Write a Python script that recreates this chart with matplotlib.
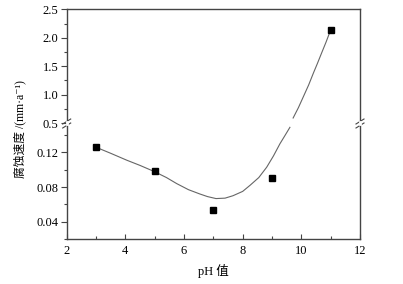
import numpy as np
import matplotlib.pyplot as plt
from matplotlib.ticker import MultipleLocator

# measured points
ph = [3, 5, 7, 9, 11]
rate = [0.126, 0.098, 0.053, 0.091, 2.13]

# fitted curve, lower part and upper part of the broken axis
fit_ph_low = [3.0, 3.5, 4.05, 4.5, 4.98, 5.4, 5.75, 6.15, 6.54, 6.8, 7.09, 7.4, 7.67, 8.0, 8.25, 8.55, 8.82, 9.05, 9.27, 9.45, 9.61]
fit_v_low = [0.126, 0.119, 0.111, 0.105, 0.098, 0.091, 0.084, 0.077, 0.072, 0.069, 0.0667, 0.0672, 0.070, 0.075, 0.082, 0.091, 0.103, 0.116, 0.130, 0.140, 0.149]
fit_ph_up = [9.72, 9.9, 10.07, 10.25, 10.41, 10.55, 10.69, 10.84, 10.98]
fit_v_up = [0.588, 0.77, 0.964, 1.17, 1.377, 1.55, 1.73, 1.92, 2.11]

plt.rcParams['font.family'] = ['Liberation Serif', 'Noto Sans CJK SC', 'DejaVu Sans']
plt.rcParams['font.size'] = 9

W, H = 403, 284
fig = plt.figure(figsize=(W / 100, H / 100), dpi=100)

left = 66.7 / W
right = 360 / W
top = 1 - 9.3 / H
brk = 1 - 123 / H
bot = 1 - 239 / H

ax_up = fig.add_axes([left, brk, right - left, top - brk])
ax_lo = fig.add_axes([left, bot, right - left, brk - bot])

spine_col = '#444444'
line_col = '#666666'

for ax in (ax_up, ax_lo):
    ax.set_xlim(2, 12)
    for s in ax.spines.values():
        s.set_color(spine_col)
        s.set_linewidth(1.0)
    ax.tick_params(axis='y', which='both', direction='out', left=True, right=False,
                   color=spine_col, width=0.8)
    ax.tick_params(axis='y', which='major', length=4, pad=2)
    ax.tick_params(axis='y', which='minor', length=2)

# upper
ax_up.set_ylim(0.5, 2.5)
ax_up.yaxis.set_minor_locator(MultipleLocator(0.25))
ax_up.set_yticks([0.5, 1.0, 1.5, 2.0, 2.5])
ax_up.set_yticklabels(['0.5', '1.0', '1.5', '2.0', '2.5'])
ax_up.spines['bottom'].set_visible(False)
ax_up.tick_params(axis='x', which='both', bottom=False, top=False, labelbottom=False)
ax_up.plot(fit_ph_up, fit_v_up, color=line_col, lw=0.8)
ax_up.plot(ph[4:], rate[4:], 's', color='black', ms=4.2)

# lower
ax_lo.set_ylim(0.02, 0.154)
ax_lo.set_yticks([0.04, 0.08, 0.12])
ax_lo.set_yticklabels(['0.04', '0.08', '0.12'])
ax_lo.yaxis.set_minor_locator(MultipleLocator(0.02))
ax_lo.spines['top'].set_visible(False)
ax_lo.set_xticks([2, 4, 6, 8, 10, 12])
ax_lo.xaxis.set_minor_locator(MultipleLocator(1))
ax_lo.tick_params(axis='x', which='both', direction='in', top=False, color=spine_col, width=0.8)
ax_lo.tick_params(axis='x', which='major', length=3.5, pad=4)
ax_lo.tick_params(axis='x', which='minor', length=2)
ax_lo.plot(fit_ph_low, fit_v_low, color=line_col, lw=0.8)
ax_lo.plot(ph[:4], rate[:4], 's', color='black', ms=4.2)

ax_lo.set_xlabel('pH 值', labelpad=5)

# break marks on both side spines
for xb in (left, right):
    for dy in (-2.5, 1.5):
        y0 = brk + dy / H
        fig.add_artist(plt.Line2D([xb - 4 / W, xb + 4 / W], [y0 - 2.5 / H, y0 + 2.5 / H],
                                  color=spine_col, lw=0.8))
    fig.add_artist(plt.Line2D([xb, xb], [brk - 1 / H, brk + 0.5 / H], color='white', lw=2))

fig.text(20 / W, 1 - 178 / H, '腐蚀速度 /(mm·a⁻¹)', rotation=90,
         ha='center', va='bottom', fontsize=8.5)

fig.savefig('out.png', dpi=100, facecolor='white')
